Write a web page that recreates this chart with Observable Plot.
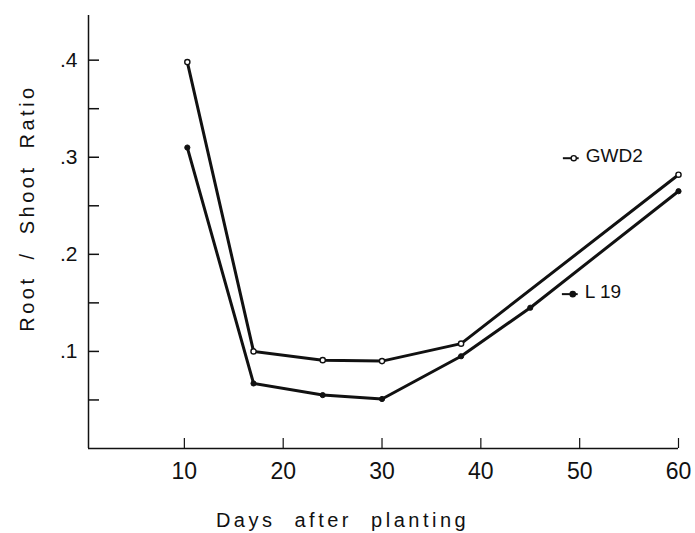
<!DOCTYPE html>
<html>
<head>
<meta charset="utf-8">
<script src="https://cdn.jsdelivr.net/npm/d3@7"></script>
<script src="https://cdn.jsdelivr.net/npm/@observablehq/plot@0.6"></script>
<style>
  html, body { margin: 0; padding: 0; background: #fff; }
</style>
</head>
<body>
<div id="chart"></div>
<script>
// Data
const gwd2Days = [10.3, 17, 24, 30, 38, 60];
const gwd2Ratio = [0.398, 0.100, 0.091, 0.090, 0.108, 0.282];
const l19Days = [10.3, 17, 24, 30, 38, 45, 60];
const l19Ratio = [0.310, 0.067, 0.055, 0.051, 0.095, 0.145, 0.265];

const xTicks = [10, 20, 30, 40, 50, 60];
const yTicks = [0.05, 0.1, 0.15, 0.2, 0.25, 0.3, 0.35, 0.4];
const yTickLabels = ["", ".1", "", ".2", "", ".3", "", ".4"];

const legendLabels = ["GWD2", "L 19"];
const legendX = [49.4, 49.3];
const legendY = [0.299, 0.159];
const legendFill = ["white", "#111"];

const xLabel = "Days after planting";
const yLabel = "Root / Shoot Ratio";
const xMin = 0.3, xMax = 60, yMax = 0.446;

const gwd2 = gwd2Days.map((d, i) => ({x: d, y: gwd2Ratio[i], s: "GWD2"}));
const l19 = l19Days.map((d, i) => ({x: d, y: l19Ratio[i], s: "L 19"}));
const legend = legendLabels.map((t, i) => ({t, x: legendX[i], y: legendY[i], fill: legendFill[i]}));

const chart = Plot.plot({
  width: 695,
  height: 533,
  marginLeft: 88,
  marginRight: 17,
  marginTop: 15,
  marginBottom: 85,
  x: {domain: [xMin, xMax]},
  y: {domain: [0, yMax]},
  style: {fontFamily: "'Liberation Sans', Arial, sans-serif", color: "#111", background: "white"},
  marks: [
    Plot.ruleX([xMin], {stroke: "#111", strokeWidth: 1.5}),
    Plot.ruleY([0], {stroke: "#111", strokeWidth: 1.5}),
    Plot.axisY({ticks: yTicks, tickSize: -11, tickPadding: 22, strokeWidth: 1.5,
      tickFormat: (d) => yTickLabels[yTicks.indexOf(d)], label: null, fontSize: 21}),
    Plot.axisX({ticks: xTicks, tickSize: -10, tickPadding: 24, strokeWidth: 1.2,
      tickFormat: (d) => String(d), label: null, fontSize: 23}),
    Plot.line(gwd2, {x: "x", y: "y", stroke: "#111", strokeWidth: 3}),
    Plot.line(l19, {x: "x", y: "y", stroke: "#111", strokeWidth: 3}),
    Plot.dot(gwd2, {x: "x", y: "y", r: 2.6, fill: "white", stroke: "#111", strokeWidth: 1.4}),
    Plot.dot(l19, {x: "x", y: "y", r: 2.6, fill: "#111", stroke: "#111", strokeWidth: 1}),
    // legend
    Plot.link(legend, {x1: (d) => d.x - 1.1, x2: (d) => d.x + 0.5, y1: "y", y2: "y", stroke: "#111", strokeWidth: 2}),
    Plot.dot(legend, {x: "x", y: "y", r: 2.6, fill: "fill", stroke: "#111", strokeWidth: 1.4}),
    Plot.text(legend, {x: "x", y: "y", text: "t", textAnchor: "start", dx: 12, dy: -2, fontSize: 19, fill: "#111"}),
    // axis titles
    Plot.text([xLabel], {frameAnchor: "bottom", textAnchor: "middle", lineAnchor: "middle", dx: -41, dy: 72, fontSize: 20, fill: "#111"}),
    Plot.text([yLabel], {frameAnchor: "left", textAnchor: "middle", lineAnchor: "middle", rotate: -90, dx: -61, dy: -24, fontSize: 20, fill: "#111"})
  ]
});

const svg = d3.select(chart);
svg.selectAll("text").each(function () {
  const t = d3.select(this);
  const s = t.text();
  if (s === xLabel) t.style("letter-spacing", "3.5px").style("word-spacing", "10px");
  if (s === yLabel) t.style("letter-spacing", "3.5px").style("word-spacing", "7px");
});

document.getElementById("chart").appendChild(chart);
</script>
</body>
</html>
